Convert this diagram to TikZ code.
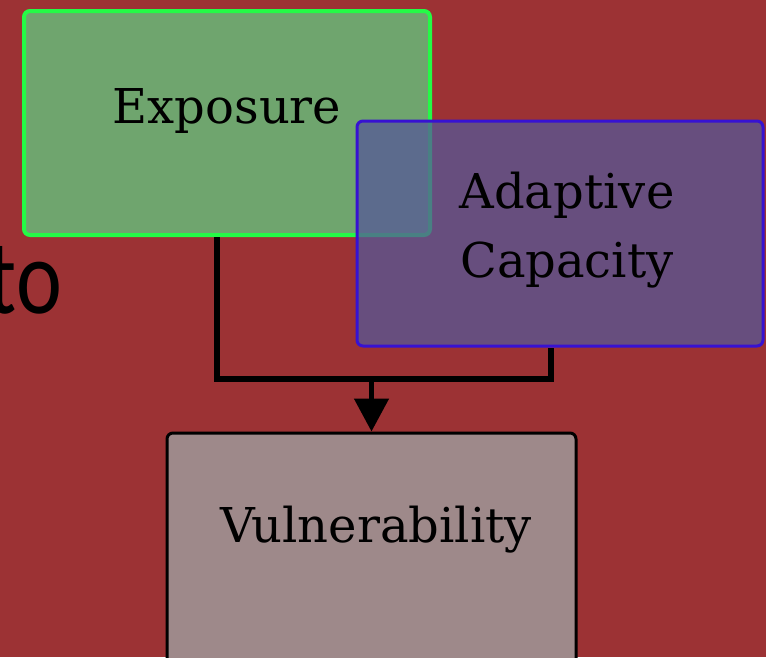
\documentclass[tikz,border=0pt]{standalone}
\usepackage{fontspec}
\newfontfamily\tofont{Carlito}
\newfontfamily\boxfont{DejaVu Serif}
\usetikzlibrary{arrows.meta}
\definecolor{bgred}{RGB}{156,50,52}
\definecolor{expfill}{RGB}{111,165,110}
\definecolor{expborder}{RGB}{36,250,70}
\definecolor{adfill}{RGB}{86,88,152}
\definecolor{adborder}{RGB}{55,18,210}
\definecolor{vufill}{RGB}{158,137,138}
\tikzset{
  boxbase/.style={draw, rounded corners=6pt, inner sep=0pt},
  expbox/.style={boxbase, fill=expfill, draw=expborder, line width=4pt, minimum width=406pt, minimum height=224pt},
  adbox/.style={boxbase, fill=adfill, fill opacity=0.75, draw=adborder, draw opacity=1, line width=3pt, minimum width=406pt, minimum height=225pt},
  vubox/.style={boxbase, fill=vufill, draw=black, line width=3pt, minimum width=409pt, minimum height=270pt},
  lbl/.style={font=\boxfont\fontsize{48}{60}\selectfont, text=black, align=center, inner sep=0pt},
  conn/.style={draw=black, line width=6pt, line join=miter},
  arr/.style={draw=black, line width=5pt, -{Triangle[width=34pt,length=33pt]}}
}
\begin{document}
\begin{tikzpicture}[x=1pt,y=-1pt]
\useasboundingbox (0,0) rectangle (766,657);
\fill[bgred] (0,0) rectangle (766,657);
\node[anchor=base east, inner sep=0pt, xscale=0.82, transform shape, font=\tofont\fontsize{106}{106}\selectfont] (to) at (62,313) {to};
\node[expbox] (exposure) at (227,123) {};
\node[adbox] (adaptive) at (560,233.5) {};
\node[vubox] (vuln) at (371.5,568) {};
\node[lbl, anchor=base] (explbl) at (227,123) {Exposure};
\node[lbl, anchor=base] (adlbl1) at (567,208) {Adaptive};
\node[lbl, anchor=base] (adlbl2) at (567,277) {Capacity};
\node[lbl, anchor=base] (vulbl) at (376,542) {Vulnerability};
\coordinate (j) at (371.5,379);
\draw[conn] ([xshift=-10pt]exposure.south) |- (j) -| ([xshift=-9pt]adaptive.south);
\draw[arr] (j) -- (vuln.north);
\end{tikzpicture}
\end{document}
